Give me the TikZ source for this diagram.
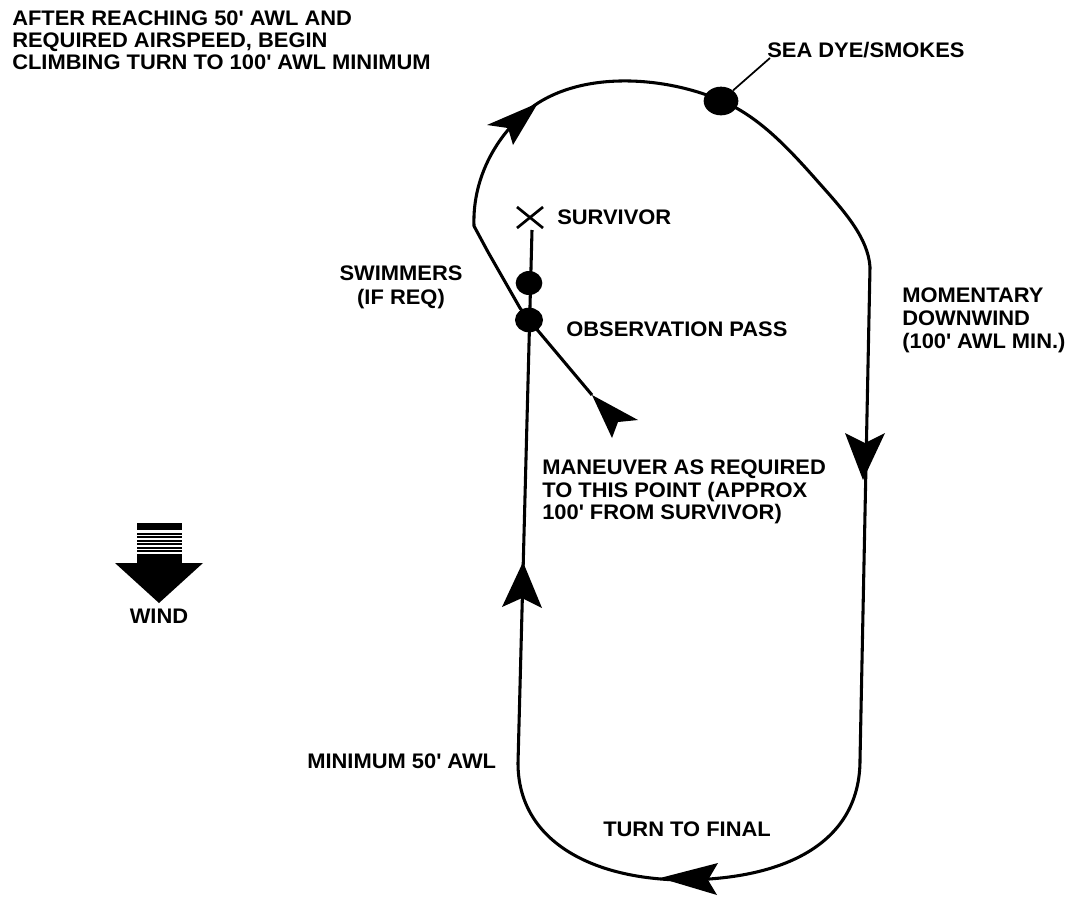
\documentclass[tikz,border=0pt]{standalone}
\usepackage{fontspec}
\newfontfamily\lblfont{Liberation Sans}[FakeStretch=1.04]
\usetikzlibrary{shapes.geometric}

\begin{document}
\begin{tikzpicture}[x=0.75pt,y=-0.75pt,
  track/.style={line width=2.3pt, line join=round},
  thin track/.style={line width=2pt},
  head/.style={fill=black},
  dot/.style={ellipse, fill=black, inner sep=0pt},
  lbl/.style={inner sep=0pt, align=left,
    font=\lblfont\bfseries\fontsize{15.8pt}{#1}\selectfont},
  lbl/.default=15.8pt]
\useasboundingbox (0,0) rectangle (1070,896);

% ---- pattern: final leg, turn to final, downwind, climbing turn ----
\draw[track] (532,230) -- (518,763)
  .. controls (518,840) and (590,878) .. (680,880)
  .. controls (790,880) and (860,840) .. (860,760)
  -- (870,267)
  .. controls (868,238) and (845,212) .. (820,184)
  .. controls (790,150) and (760,117) .. (722,101)
  .. controls (670,78) and (590,70) .. (538,103)
  .. controls (503,126) and (472,172) .. (474,226)
  -- (488,252) -- (520,308) -- (529,320) -- (592,395);

% ---- arrowheads along the track ----
\fill[head] (523,562) -- (542,608) -- (522,598) -- (502,607) -- cycle;
\fill[head] (863,480) -- (845,433) -- (865,443) -- (885,433) -- cycle;
\fill[head] (538,103) -- (487,125) -- (508,128) -- (513,145) -- cycle;
\fill[head] (660,878) -- (718,863) -- (708,880) -- (717,895) -- cycle;
\fill[head] (592,395) -- (612,438) -- (618,422) -- (638,420) -- cycle;

% ---- survivor mark ----
\draw[thin track] (517,207) -- (543,228) (517,228) -- (543,207);

% ---- markers ----
\node[dot, minimum width=26pt, minimum height=21.5pt] (seadye) at (721,101) {};
\node[dot, minimum width=20pt, minimum height=18pt] (swimdot) at (529,283) {};
\node[dot, minimum width=21pt, minimum height=18.5pt] (obsdot) at (529,320) {};
\coordinate (seadyetip) at (770,58);
\draw[line width=1.3pt] (seadye) -- (seadyetip);

% ---- wind arrow ----
\fill (137,523) rectangle (182,530);
\foreach \yy in {532.5,536,539.5,543,546.5,550}
  \fill (137,\yy) rectangle (182,\yy+2);
\fill (137,554) rectangle (182,564);
\fill (115,563) -- (203,563) -- (159,603) -- cycle;

% ---- labels ----
\node[lbl=16.5pt, anchor=north west] (climb) at (12,11)
  {AFTER REACHING 50\textquotesingle{} AWL AND\\REQUIRED AIRSPEED, BEGIN\\CLIMBING TURN TO 100\textquotesingle{} AWL MINIMUM};
\node[lbl, anchor=north west] (seadyelbl) at (767,42) {SEA DYE/SMOKES};
\node[lbl, anchor=west] (survivor) at (557,217) {SURVIVOR};
\node[lbl=18pt, align=center, anchor=north] (swim) at (401,266) {SWIMMERS\\(IF REQ)};
\node[lbl, anchor=west] (obs) at (566,329) {OBSERVATION PASS};
\node[lbl=17.25pt, anchor=north west] (downwind) at (902,288)
  {MOMENTARY\\DOWNWIND\\(100\textquotesingle{} AWL MIN.)};
\node[lbl=16.8pt, anchor=north west] (maneuver) at (542,460)
  {MANEUVER AS REQUIRED\\TO THIS POINT (APPROX\\100\textquotesingle{} FROM SURVIVOR)};
\node[lbl, anchor=north west] (final) at (603,822) {TURN TO FINAL};
\node[lbl, anchor=north west] (min50) at (307,754) {MINIMUM 50\textquotesingle{} AWL};
\node[lbl, anchor=north] (wind) at (159,609) {WIND};
\end{tikzpicture}
\end{document}
